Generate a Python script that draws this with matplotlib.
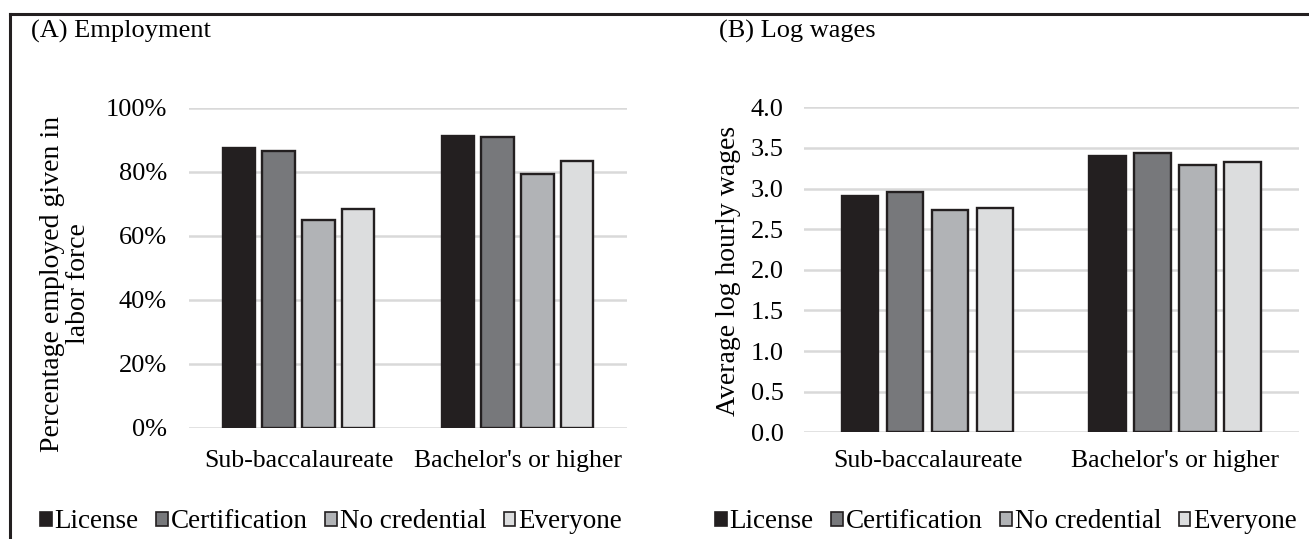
import numpy as np
import matplotlib.pyplot as plt
from matplotlib.patches import Patch
from matplotlib.lines import Line2D

plt.rcParams['font.family'] = ['Liberation Serif', 'DejaVu Serif']

# data
groups = ["Sub-baccalaureate", "Bachelor's or higher"]
series = ["License", "Certification", "No credential", "Everyone"]
employment = {
    "License": [87.6, 91.2],
    "Certification": [86.6, 90.8],
    "No credential": [65.0, 79.5],
    "Everyone": [68.5, 83.4],
}
log_wages = {
    "License": [2.91, 3.40],
    "Certification": [2.96, 3.44],
    "No credential": [2.73, 3.29],
    "Everyone": [2.76, 3.33],
}
emp_ticks = [0, 20, 40, 60, 80, 100]
wage_ticks = [0.0, 0.5, 1.0, 1.5, 2.0, 2.5, 3.0, 3.5, 4.0]

colors = ["#231f20", "#77787b", "#b1b3b6", "#dcddde"]
edge = "#231f20"
grid_col = "#d9d9d9"
FS = 19

W, H = 1309, 539
fig = plt.figure(figsize=(W / 100, H / 100), dpi=100)


def px_axes(x0, y0, x1, y1):
    # pixel box (top-down image coords) -> figure axes
    return fig.add_axes([x0 / W, (H - y1) / H, (x1 - x0) / W, (y1 - y0) / H])


def draw_panel(ax, data, ticks, labels, ylim, ypad, xpad):
    x = np.arange(len(groups))
    step, width = 0.182, 0.147
    for i, name in enumerate(series):
        ax.bar(x + (i - 1.5) * step, data[name], width=width, color=colors[i],
               edgecolor=edge, linewidth=1.7, zorder=3)
    ax.set_xlim(-0.5, 1.5)
    ax.set_ylim(*ylim)
    ax.set_yticks(ticks)
    ax.set_yticklabels(labels, fontsize=FS)
    ax.set_xticks(x)
    ax.set_xticklabels(groups, fontsize=18.5)
    ax.tick_params(axis='y', length=0, pad=ypad)
    ax.tick_params(axis='x', length=0, pad=xpad)
    ax.grid(axis='y', color=grid_col, linewidth=1.8, zorder=0)
    for s in ax.spines.values():
        s.set_visible(False)


ax1 = px_axes(189, 108, 627, 428)
draw_panel(ax1, employment, emp_ticks, [f"{t}%" for t in emp_ticks],
           (0, 100), 16, 16)
ax1.set_ylabel("Percentage employed given in\nlabor force", fontsize=20,
               linespacing=1.05)
ax1.yaxis.set_label_coords((91 - 189) / 438, 0.45)

ax2 = px_axes(804, 107.3, 1298.6, 432.3)
draw_panel(ax2, log_wages, wage_ticks, [f"{t:.1f}" for t in wage_ticks],
           (0, 4), 14.5, 13)
ax2.set_ylabel("Average log hourly wages", fontsize=20)
ax2.yaxis.set_label_coords((741 - 804) / 494.6, 0.495)

fig.text(31 / W, 1 - 38 / H, "(A) Employment", fontsize=FS, va='baseline')
fig.text(719 / W, 1 - 38 / H, "(B) Log wages", fontsize=FS, va='baseline')

handles = [Patch(facecolor=c, edgecolor=edge, linewidth=1.2) for c in colors]
for cx, cy in [(331 / W, 1 - 522 / H), (1006 / W, 1 - 522 / H)]:
    fig.legend(handles, series, loc='center', bbox_to_anchor=(cx, cy), ncol=4,
               frameon=False, fontsize=19.5, handlelength=0.43, handleheight=0.43,
               handletextpad=0.1, columnspacing=0.65, borderpad=0)

# frame lines of the original figure box
fig.add_artist(Line2D([10 / W, 1], [1 - 14 / H, 1 - 14 / H], color="#231f20", linewidth=2.2))
fig.add_artist(Line2D([10 / W, 10 / W], [0, 1 - 14 / H], color="#231f20", linewidth=2.2))

fig.savefig("out.png", dpi=100)
